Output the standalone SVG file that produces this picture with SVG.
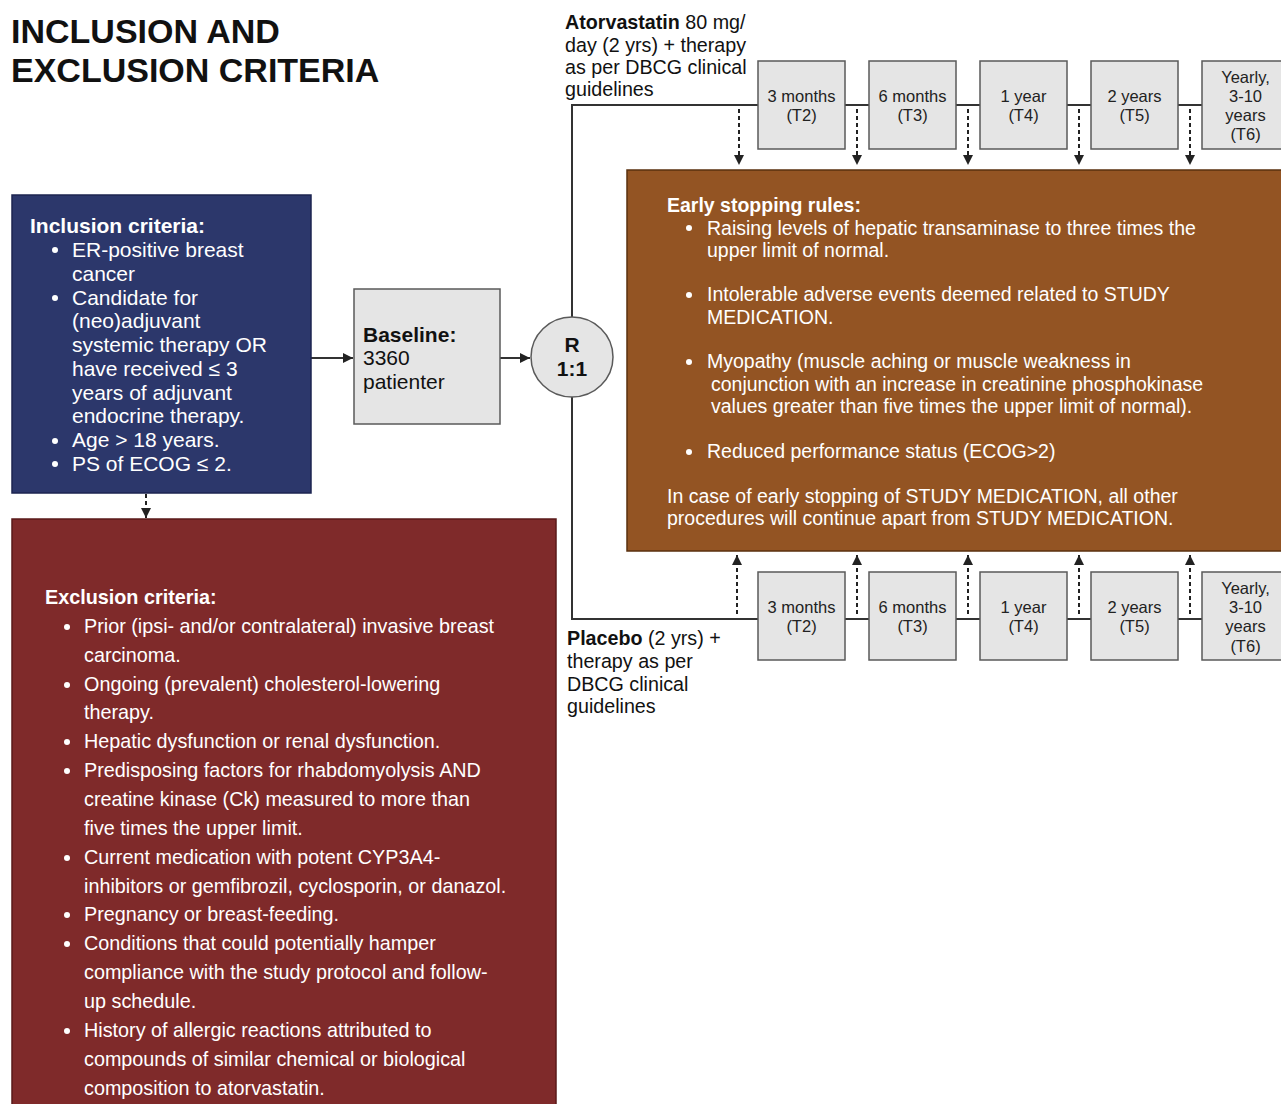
<svg xmlns="http://www.w3.org/2000/svg" width="1281" height="1104" viewBox="0 0 1281 1104">
<defs>
<marker id="ah" markerUnits="userSpaceOnUse" markerWidth="10" markerHeight="10" viewBox="0 0 10 10" refX="10" refY="5" orient="auto">
<path d="M0,0 L10,5 L0,10 z" fill="#222"/>
</marker>
<style>
text{font-family:"Liberation Sans",Arial,sans-serif;}
.title{font-size:34px;font-weight:bold;fill:#111;}
.wh{fill:#fff;}
.b{font-weight:bold;}
.inc{font-size:21px;}
.exc{font-size:19.8px;}
.esr{font-size:19.5px;}
.arm{font-size:19.7px;fill:#111;}
.tl{fill:#e5e5e5;stroke:#5a5a5a;stroke-width:1.5;}
.tlt{font-size:16.5px;fill:#222;text-anchor:middle;}
.ln{stroke:#333;stroke-width:2;fill:none;}
.dash{stroke:#222;stroke-width:2;fill:none;stroke-dasharray:4,3;}
</style>
</defs>

<g id="title">
<text class="title" x="11" y="43">INCLUSION AND</text>
<text class="title" x="11" y="82">EXCLUSION CRITERIA</text>
</g>

<g id="connectors">
<line class="ln" x1="311" y1="358" x2="353" y2="358" marker-end="url(#ah)"/>
<line class="ln" x1="500" y1="358" x2="530" y2="358" marker-end="url(#ah)"/>
<line class="dash" x1="146" y1="494" x2="146" y2="518" marker-end="url(#ah)"/>
<polyline class="ln" points="572,317 572,105 758,105"/>
<polyline class="ln" points="572,397 572,619 758,619"/>
<line class="ln" x1="845" y1="105" x2="869" y2="105"/>
<line class="ln" x1="956" y1="105" x2="980" y2="105"/>
<line class="ln" x1="1067" y1="105" x2="1091" y2="105"/>
<line class="ln" x1="1178" y1="105" x2="1202" y2="105"/>
<line class="ln" x1="845" y1="619" x2="869" y2="619"/>
<line class="ln" x1="956" y1="619" x2="980" y2="619"/>
<line class="ln" x1="1067" y1="619" x2="1091" y2="619"/>
<line class="ln" x1="1178" y1="619" x2="1202" y2="619"/>
<line class="dash" x1="739" y1="109" x2="739" y2="165" marker-end="url(#ah)"/>
<line class="dash" x1="857" y1="109" x2="857" y2="165" marker-end="url(#ah)"/>
<line class="dash" x1="968" y1="109" x2="968" y2="165" marker-end="url(#ah)"/>
<line class="dash" x1="1079" y1="109" x2="1079" y2="165" marker-end="url(#ah)"/>
<line class="dash" x1="1190" y1="109" x2="1190" y2="165" marker-end="url(#ah)"/>
<line class="dash" x1="737" y1="614" x2="737" y2="555" marker-end="url(#ah)"/>
<line class="dash" x1="857" y1="614" x2="857" y2="555" marker-end="url(#ah)"/>
<line class="dash" x1="968" y1="614" x2="968" y2="555" marker-end="url(#ah)"/>
<line class="dash" x1="1079" y1="614" x2="1079" y2="555" marker-end="url(#ah)"/>
<line class="dash" x1="1190" y1="614" x2="1190" y2="555" marker-end="url(#ah)"/>
</g>

<g id="inclusion">
<rect x="12" y="195" width="299" height="298" fill="#2c376b" stroke="#1c2550" stroke-width="1.5"/>
<text class="inc wh b" x="30" y="233">Inclusion criteria:</text>
<g class="inc wh">
<circle cx="55" cy="250" r="3" fill="#fff"/>
<text x="72" y="257">ER-positive breast</text>
<text x="72" y="281">cancer</text>
<circle cx="55" cy="298" r="3" fill="#fff"/>
<text x="72" y="305">Candidate for</text>
<text x="72" y="328">(neo)adjuvant</text>
<text x="72" y="352">systemic therapy OR</text>
<text x="72" y="376">have received ≤ 3</text>
<text x="72" y="400">years of adjuvant</text>
<text x="72" y="423">endocrine therapy.</text>
<circle cx="55" cy="441" r="3" fill="#fff"/>
<text x="72" y="447">Age &gt; 18 years.</text>
<circle cx="55" cy="464" r="3" fill="#fff"/>
<text x="72" y="471">PS of ECOG ≤ 2.</text>
</g>
</g>

<g id="baseline">
<rect x="354" y="289" width="146" height="135" fill="#e5e5e5" stroke="#5a5a5a" stroke-width="1.5"/>
<text x="363" y="342" font-size="21" font-weight="bold" fill="#111">Baseline:</text>
<text x="363" y="365" font-size="21" fill="#111">3360</text>
<text x="363" y="389" font-size="21" fill="#111">patienter</text>
</g>

<g id="randomisation">
<ellipse cx="572" cy="357" rx="41" ry="40" fill="#e5e5e5" stroke="#5a5a5a" stroke-width="1.5"/>
<text x="572" y="352" font-size="21" font-weight="bold" text-anchor="middle" fill="#111">R</text>
<text x="572" y="376" font-size="21" font-weight="bold" text-anchor="middle" fill="#111">1:1</text>
</g>

<g id="atorvastatin-label">
<text class="arm" x="565" y="29"><tspan font-weight="bold">Atorvastatin</tspan> 80 mg/</text>
<text class="arm" x="565" y="52">day (2 yrs) + therapy</text>
<text class="arm" x="565" y="74">as per DBCG clinical</text>
<text class="arm" x="565" y="96">guidelines</text>
</g>

<g id="placebo-label">
<text class="arm" x="567" y="645"><tspan font-weight="bold">Placebo</tspan> (2 yrs) +</text>
<text class="arm" x="567" y="668">therapy as per</text>
<text class="arm" x="567" y="691">DBCG clinical</text>
<text class="arm" x="567" y="713">guidelines</text>
</g>

<g id="top-T2"><rect class="tl" x="758" y="61" width="87" height="88"/><text class="tlt" x="801.5" y="102">3 months</text><text class="tlt" x="801.5" y="121">(T2)</text></g>
<g id="top-T3"><rect class="tl" x="869" y="61" width="87" height="88"/><text class="tlt" x="912.5" y="102">6 months</text><text class="tlt" x="912.5" y="121">(T3)</text></g>
<g id="top-T4"><rect class="tl" x="980" y="61" width="87" height="88"/><text class="tlt" x="1023.5" y="102">1 year</text><text class="tlt" x="1023.5" y="121">(T4)</text></g>
<g id="top-T5"><rect class="tl" x="1091" y="61" width="87" height="88"/><text class="tlt" x="1134.5" y="102">2 years</text><text class="tlt" x="1134.5" y="121">(T5)</text></g>
<g id="top-T6"><rect class="tl" x="1202" y="61" width="87" height="88"/><text class="tlt" x="1245.5" y="83">Yearly,</text><text class="tlt" x="1245.5" y="102">3-10</text><text class="tlt" x="1245.5" y="121">years</text><text class="tlt" x="1245.5" y="140">(T6)</text></g>

<g id="bot-T2"><rect class="tl" x="758" y="572" width="87" height="88"/><text class="tlt" x="801.5" y="613">3 months</text><text class="tlt" x="801.5" y="632">(T2)</text></g>
<g id="bot-T3"><rect class="tl" x="869" y="572" width="87" height="88"/><text class="tlt" x="912.5" y="613">6 months</text><text class="tlt" x="912.5" y="632">(T3)</text></g>
<g id="bot-T4"><rect class="tl" x="980" y="572" width="87" height="88"/><text class="tlt" x="1023.5" y="613">1 year</text><text class="tlt" x="1023.5" y="632">(T4)</text></g>
<g id="bot-T5"><rect class="tl" x="1091" y="572" width="87" height="88"/><text class="tlt" x="1134.5" y="613">2 years</text><text class="tlt" x="1134.5" y="632">(T5)</text></g>
<g id="bot-T6"><rect class="tl" x="1202" y="572" width="87" height="88"/><text class="tlt" x="1245.5" y="594">Yearly,</text><text class="tlt" x="1245.5" y="613">3-10</text><text class="tlt" x="1245.5" y="632">years</text><text class="tlt" x="1245.5" y="652">(T6)</text></g>

<g id="early-stopping">
<rect x="627" y="170" width="670" height="381" fill="#935423" stroke="#5a300f" stroke-width="1.5"/>
<text class="esr wh b" x="667" y="212">Early stopping rules:</text>
<g class="esr wh">
<circle cx="689" cy="228" r="3" fill="#fff"/>
<text x="707" y="235">Raising levels of hepatic transaminase to three times the</text>
<text x="707" y="257">upper limit of normal.</text>
<circle cx="689" cy="295" r="3" fill="#fff"/>
<text x="707" y="301">Intolerable adverse events deemed related to STUDY</text>
<text x="707" y="324">MEDICATION.</text>
<circle cx="689" cy="362" r="3" fill="#fff"/>
<text x="707" y="368">Myopathy (muscle aching or muscle weakness in</text>
<text x="711" y="391">conjunction with an increase in creatinine phosphokinase</text>
<text x="711" y="413">values greater than five times the upper limit of normal).</text>
<circle cx="689" cy="452" r="3" fill="#fff"/>
<text x="707" y="458">Reduced performance status (ECOG&gt;2)</text>
<text x="667" y="503">In case of early stopping of STUDY MEDICATION, all other</text>
<text x="667" y="525">procedures will continue apart from STUDY MEDICATION.</text>
</g>
</g>

<g id="exclusion">
<rect x="12" y="519" width="544" height="600" fill="#7f2a2a" stroke="#5a1a1a" stroke-width="1.5"/>
<text class="exc wh b" x="45" y="604">Exclusion criteria:</text>
<g class="exc wh">
<circle cx="67" cy="627" r="3" fill="#fff"/>
<text x="84" y="633">Prior (ipsi- and/or contralateral) invasive breast</text>
<text x="84" y="662">carcinoma.</text>
<circle cx="67" cy="685" r="3" fill="#fff"/>
<text x="84" y="691">Ongoing (prevalent) cholesterol-lowering</text>
<text x="84" y="719">therapy.</text>
<circle cx="67" cy="742" r="3" fill="#fff"/>
<text x="84" y="748">Hepatic dysfunction or renal dysfunction.</text>
<circle cx="67" cy="771" r="3" fill="#fff"/>
<text x="84" y="777">Predisposing factors for rhabdomyolysis AND</text>
<text x="84" y="806">creatine kinase (Ck) measured to more than</text>
<text x="84" y="835">five times the upper limit.</text>
<circle cx="67" cy="858" r="3" fill="#fff"/>
<text x="84" y="864">Current medication with potent CYP3A4-</text>
<text x="84" y="893">inhibitors or gemfibrozil, cyclosporin, or danazol.</text>
<circle cx="67" cy="915" r="3" fill="#fff"/>
<text x="84" y="921">Pregnancy or breast-feeding.</text>
<circle cx="67" cy="944" r="3" fill="#fff"/>
<text x="84" y="950">Conditions that could potentially hamper</text>
<text x="84" y="979">compliance with the study protocol and follow-</text>
<text x="84" y="1008">up schedule.</text>
<circle cx="67" cy="1031" r="3" fill="#fff"/>
<text x="84" y="1037">History of allergic reactions attributed to</text>
<text x="84" y="1066">compounds of similar chemical or biological</text>
<text x="84" y="1095">composition to atorvastatin.</text>
</g>
</g>
</svg>
